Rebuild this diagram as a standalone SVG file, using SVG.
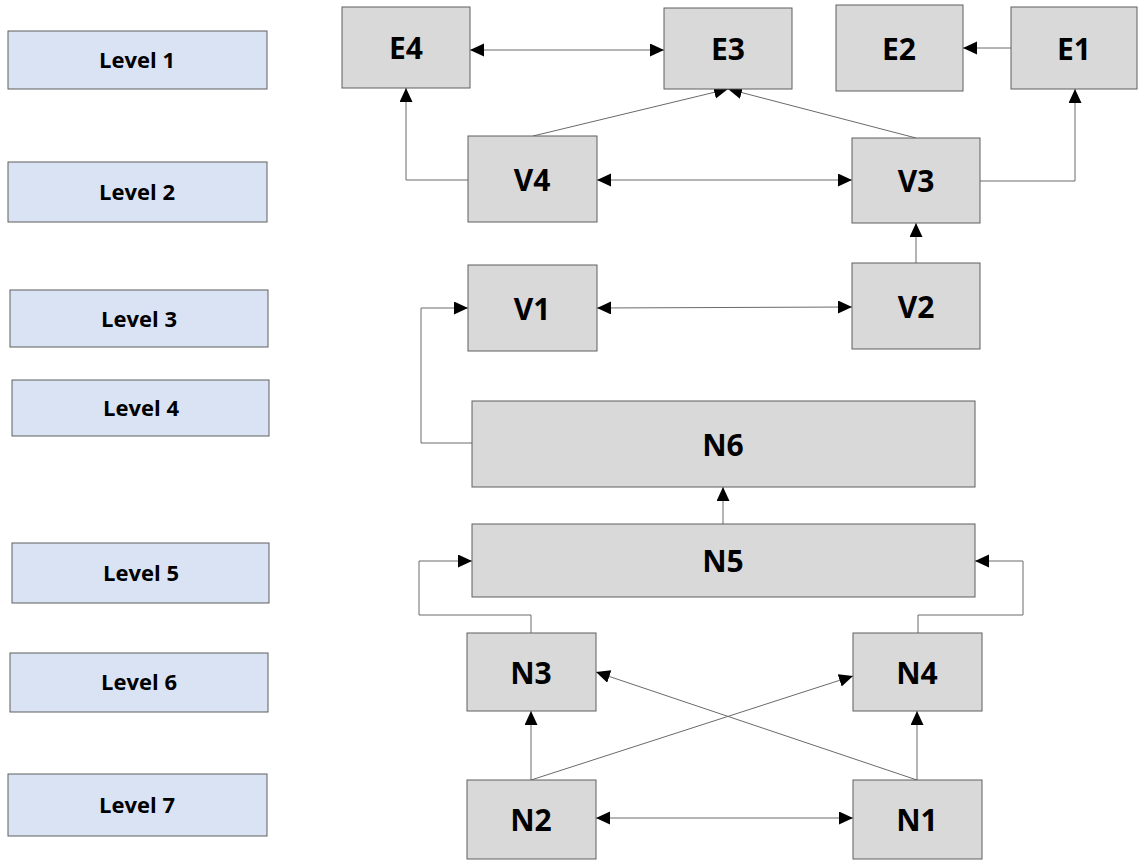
<svg xmlns="http://www.w3.org/2000/svg" width="1138" height="860" viewBox="0 0 1138 860">
<style>
.lvl{fill:#dae3f3;stroke:#5f5f5f;stroke-width:1}
.nd{fill:#d9d9d9;stroke:#5f5f5f;stroke-width:1}
.lt{font-family:"Open Sans","Liberation Sans",sans-serif;font-weight:bold;font-size:22px;fill:#000;text-anchor:middle}
.nt{font-family:"Open Sans","Liberation Sans",sans-serif;font-weight:bold;font-size:30px;fill:#000;text-anchor:middle}
.c{fill:none;stroke:#6a6a6a;stroke-width:1}
.a{marker-end:url(#ah)}
.b{marker-start:url(#ah);marker-end:url(#ah)}
</style>
<defs>
<marker id="ah" markerUnits="userSpaceOnUse" markerWidth="15" markerHeight="14" refX="14" refY="6.5" orient="auto-start-reverse" viewBox="0 0 15 14">
<path d="M0,0 L14,6.5 L0,13 z" fill="#000"/>
</marker>
</defs>
<rect width="1138" height="860" fill="#fff"/>
<g id="levels">
<g id="level1"><rect class="lvl" x="8" y="31" width="259" height="58"/><text class="lt" x="137" y="68">Level 1</text></g>
<g id="level2"><rect class="lvl" x="8" y="162" width="259" height="60"/><text class="lt" x="137" y="200">Level 2</text></g>
<g id="level3"><rect class="lvl" x="10" y="290" width="258" height="57"/><text class="lt" x="139" y="327">Level 3</text></g>
<g id="level4"><rect class="lvl" x="12" y="380" width="257" height="56"/><text class="lt" x="141" y="416">Level 4</text></g>
<g id="level5"><rect class="lvl" x="12" y="543" width="257" height="60"/><text class="lt" x="141" y="581">Level 5</text></g>
<g id="level6"><rect class="lvl" x="10" y="653" width="258" height="59"/><text class="lt" x="139" y="690">Level 6</text></g>
<g id="level7"><rect class="lvl" x="8" y="774" width="259" height="62"/><text class="lt" x="137" y="813">Level 7</text></g>
</g>
<g id="connectors">
<line class="c b" x1="470" y1="50" x2="664" y2="50"/>
<line class="c a" x1="1011" y1="48" x2="963" y2="48"/>
<line class="c a" x1="533" y1="136" x2="728" y2="89"/>
<line class="c a" x1="916" y1="138" x2="728" y2="89"/>
<polyline class="c a" points="468,180 406,180 406,88"/>
<polyline class="c a" points="980,181 1075,181 1075,89"/>
<line class="c b" x1="597" y1="180" x2="852" y2="180"/>
<line class="c a" x1="916" y1="263" x2="916" y2="223"/>
<line class="c b" x1="597" y1="308" x2="852" y2="307"/>
<polyline class="c a" points="472,443 421,443 421,308 468,308"/>
<line class="c a" x1="723" y1="524" x2="723" y2="487"/>
<polyline class="c a" points="531,633 531,615 419,615 419,561 472,561"/>
<polyline class="c a" points="918,633 918,615 1023,615 1023,561 975,561"/>
<line class="c a" x1="531" y1="780" x2="531" y2="711"/>
<line class="c a" x1="917" y1="780" x2="917" y2="711"/>
<line class="c b" x1="596" y1="818" x2="853" y2="818"/>
<line class="c a" x1="531" y1="780" x2="853" y2="676"/>
<line class="c a" x1="917" y1="780" x2="596" y2="672"/>
</g>
<g id="E4"><rect class="nd" x="342" y="7" width="128" height="81"/><text class="nt" x="406" y="59">E4</text></g>
<g id="E3"><rect class="nd" x="664" y="8" width="128" height="81"/><text class="nt" x="728" y="60">E3</text></g>
<g id="E2"><rect class="nd" x="836" y="5" width="127" height="86"/><text class="nt" x="899" y="60">E2</text></g>
<g id="E1"><rect class="nd" x="1011" y="7" width="126" height="82"/><text class="nt" x="1074" y="60">E1</text></g>
<g id="V4"><rect class="nd" x="468" y="136" width="129" height="86"/><text class="nt" x="532" y="191">V4</text></g>
<g id="V3"><rect class="nd" x="852" y="138" width="128" height="85"/><text class="nt" x="916" y="192">V3</text></g>
<g id="V1"><rect class="nd" x="468" y="265" width="129" height="86"/><text class="nt" x="532" y="320">V1</text></g>
<g id="V2"><rect class="nd" x="852" y="263" width="128" height="86"/><text class="nt" x="916" y="318">V2</text></g>
<g id="N6"><rect class="nd" x="472" y="401" width="503" height="86"/><text class="nt" x="723" y="456">N6</text></g>
<g id="N5"><rect class="nd" x="472" y="524" width="503" height="73"/><text class="nt" x="723" y="572">N5</text></g>
<g id="N3"><rect class="nd" x="467" y="633" width="129" height="78"/><text class="nt" x="531" y="684">N3</text></g>
<g id="N4"><rect class="nd" x="853" y="633" width="129" height="78"/><text class="nt" x="917" y="684">N4</text></g>
<g id="N2"><rect class="nd" x="467" y="780" width="129" height="79"/><text class="nt" x="531" y="831">N2</text></g>
<g id="N1"><rect class="nd" x="853" y="780" width="129" height="79"/><text class="nt" x="917" y="831">N1</text></g>
</svg>
